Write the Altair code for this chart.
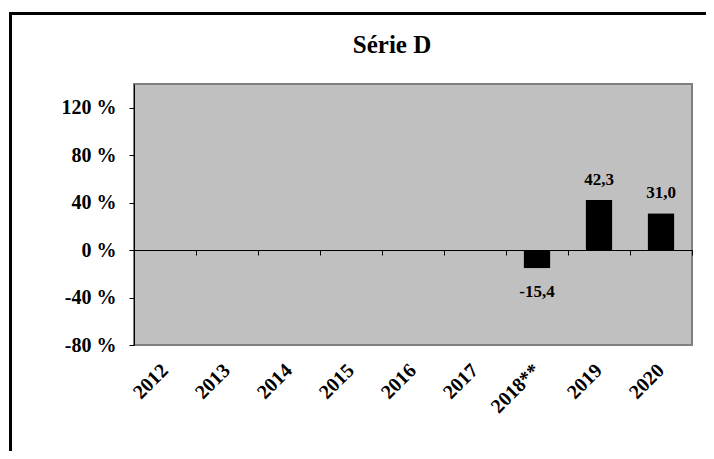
import altair as alt
import pandas as pd

title_text = "Série D"
categories = ["2012", "2013", "2014", "2015", "2016", "2017", "2018**", "2019", "2020"]
values = [None, None, None, None, None, None, -15.4, 42.3, 31.0]
labels = ["", "", "", "", "", "", "-15,4", "42,3", "31,0"]
y_ticks = [-80, -40, 0, 40, 80, 120]

df = pd.DataFrame({"cat": categories, "val": values, "lab": labels})

FONT = "Liberation Serif"
PW, PH = 558, 261

xscale = alt.Scale(domain=categories, paddingInner=0, paddingOuter=0)
yscale = alt.Scale(domain=[-80, 140], nice=False, zero=False)

bars = alt.Chart(df).mark_bar(color="black", size=27, cornerRadius=1).encode(
    x=alt.X("cat:N", sort=categories, scale=xscale,
            axis=alt.Axis(orient="bottom", offset=-95, labels=False, title=None,
                          domainColor="black", domainWidth=1, tickColor="black",
                          tickSize=5, tickWidth=1, tickBand="extent", grid=False)),
    y=alt.Y("val:Q", scale=yscale,
            axis=alt.Axis(values=y_ticks, labelExpr="datum.value + ' %'", title=None,
                          domainColor="black", domainWidth=1, tickColor="black",
                          tickSize=5, labelPadding=13, labelFont=FONT, labelFontSize=20,
                          labelFontWeight="bold", labelColor="black", grid=False)),
)

pos = alt.Chart(df).transform_filter("datum.val > 0").mark_text(
    font=FONT, fontSize=17, fontWeight="bold", color="black", baseline="alphabetic", dy=-15
).encode(
    x=alt.X("cat:N", sort=categories, scale=xscale,
            axis=alt.Axis(orient="bottom", domain=False, ticks=False, title=None,
                          labelAngle=-45, labelAlign="right", labelBaseline="middle",
                          labelPadding=22, labelFont=FONT, labelFontSize=20,
                          labelFontWeight="bold", labelColor="black",
                          labelOverlap=False, labelFlush=False, grid=False)),
    y=alt.Y("val:Q", scale=yscale),
    text="lab:N",
)

neg = alt.Chart(df).transform_filter("datum.val < 0").mark_text(
    font=FONT, fontSize=17, fontWeight="bold", color="black", baseline="alphabetic", dy=29
).encode(
    x=alt.X("cat:N", sort=categories, scale=xscale, axis=None),
    y=alt.Y("val:Q", scale=yscale),
    text="lab:N",
)

frame_df = pd.DataFrame({"t": [title_text]})
frame_top = alt.Chart(frame_df).mark_rule(color="black", strokeWidth=3).encode(
    x=alt.value(-123.5), x2=alt.value(600), y=alt.value(-70.5)
)
frame_left = alt.Chart(frame_df).mark_rule(color="black", strokeWidth=3).encode(
    x=alt.value(-123.5), y=alt.value(-72), y2=alt.value(400)
)
title = alt.Chart(frame_df).mark_text(
    font=FONT, fontSize=25, fontWeight="bold", color="black", baseline="alphabetic", align="center"
).encode(x=alt.value(258), y=alt.value(-31), text="t:N")

chart = alt.layer(bars, pos, neg, frame_top, frame_left, title).resolve_axis(x="independent").properties(
    width=PW, height=PH,
    background="white",
    autosize=alt.AutoSizeParams(type="none"),
    padding={"left": 126, "top": 76, "right": 14, "bottom": 106},
).configure_view(fill="#C0C0C0", stroke="#808080", strokeWidth=2)

chart.save("out.html", embed_options={"renderer": "svg", "actions": False})
